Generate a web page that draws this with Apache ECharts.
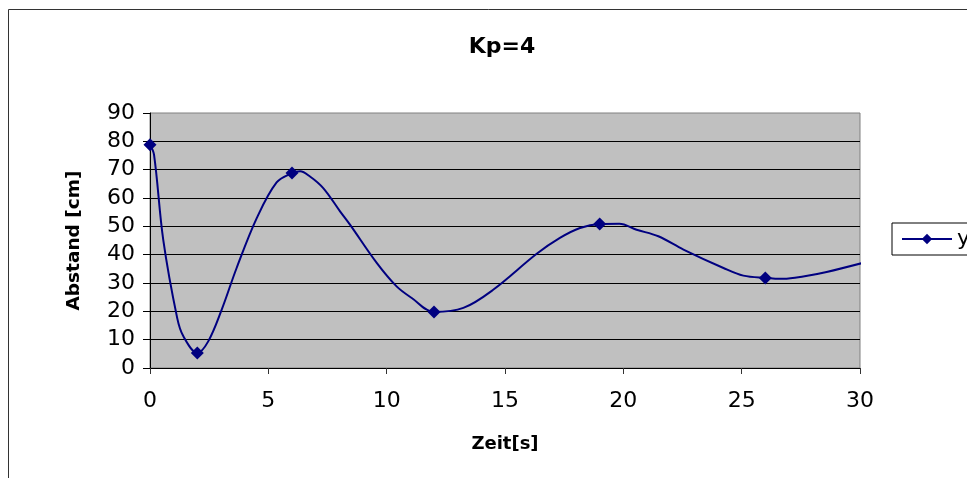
<!DOCTYPE html>
<html>
<head>
<meta charset="utf-8">
<script src="https://cdn.jsdelivr.net/npm/echarts@6/dist/echarts.min.js"></script>
<style>
html,body{margin:0;padding:0;background:#fff;}
#chart{width:967px;height:478px;}
</style>
</head>
<body>
<div id="chart"></div>
<script>
var chartTitle = 'Kp=4';
var seriesName = 'y';
var xAxisName = 'Zeit[s]';
var yAxisName = 'Abstand [cm]';
var time = [0, 0.17, 0.56, 1.15, 1.41, 2, 2.46, 3.03, 3.66, 4.51, 5.35, 6, 6.34, 6.76, 7.32, 8.03, 8.45, 9.58, 10.42, 11.06, 12, 13.24, 14.5, 16.34, 17.32, 18.17, 19, 19.83, 20.56, 21.48, 22.54, 24.23, 25.07, 26, 26.76, 27.6, 28.59, 30.35];
var distance = [78.8, 75.3, 45.2, 17.6, 11.2, 5.3, 9.4, 20.6, 35.3, 52.9, 65.5, 68.8, 69.4, 67.6, 63.5, 55.3, 50.6, 37.1, 28.8, 24.7, 19.8, 21.2, 27.6, 40.3, 45.9, 49.4, 50.8, 50.9, 48.8, 46.5, 41.8, 35.3, 32.6, 31.8, 31.5, 32.3, 33.9, 37.6];
var markedTimes = [0, 2, 6, 12, 19, 26];
var xTicks = {min: 0, max: 30, interval: 5};
var yTicks = {min: 0, max: 90, interval: 10};

var data = time.map(function (t, i) {
  var item = {value: [t, distance[i]]};
  if (markedTimes.indexOf(t) < 0) item.symbol = 'none';
  return item;
});

var chart = echarts.init(document.getElementById('chart'), null, {renderer: 'canvas'});
var font = 'DejaVu Sans';
chart.setOption({
  animation: false,
  backgroundColor: '#fff',
  title: {
    text: chartTitle,
    left: 497, top: 31, textAlign: 'center',
    textStyle: {fontFamily: font, fontSize: 22, fontWeight: 'bold', color: '#000'}
  },
  graphic: [{
    type: 'rect', silent: true, z: -1,
    shape: {x: 8.5, y: 9.5, width: 1000, height: 500},
    style: {fill: 'none', stroke: '#333', lineWidth: 1}
  }],
  legend: {
    left: 892, top: 223, orient: 'vertical',
    padding: [5, 30, 5, 9],
    backgroundColor: '#fff', borderColor: '#000', borderWidth: 1,
    itemWidth: 50, itemHeight: 13,
    textStyle: {fontFamily: font, fontSize: 22, color: '#000'},
    data: [seriesName]
  },
  grid: {
    left: 150, top: 113, width: 710, height: 255,
    show: true, backgroundColor: '#c0c0c0', borderColor: '#808080', borderWidth: 1
  },
  xAxis: {
    type: 'value', min: xTicks.min, max: xTicks.max, interval: xTicks.interval,
    name: xAxisName, nameLocation: 'middle', nameGap: 67,
    nameTextStyle: {fontFamily: font, fontSize: 18, fontWeight: 'bold', color: '#000'},
    axisLine: {show: true, lineStyle: {color: '#000', width: 1}},
    axisTick: {show: true, inside: false, length: 6, lineStyle: {color: '#333'}},
    axisLabel: {fontFamily: font, fontSize: 22, color: '#000', margin: 22},
    splitLine: {show: false}
  },
  yAxis: {
    type: 'value', min: yTicks.min, max: yTicks.max, interval: yTicks.interval,
    name: yAxisName, nameLocation: 'middle', nameGap: 66, nameRotate: 90,
    nameTextStyle: {fontFamily: font, fontSize: 18.5, fontWeight: 'bold', color: '#000'},
    axisLine: {show: true, lineStyle: {color: '#000', width: 1}},
    axisTick: {show: true, inside: false, length: 7, lineStyle: {color: '#000'}},
    axisLabel: {fontFamily: font, fontSize: 22, color: '#000', margin: 15},
    splitLine: {show: true, showMaxLine: false, lineStyle: {color: '#000', width: 1}}
  },
  series: [{
    name: seriesName, type: 'line', smooth: 0.35, clip: false,
    symbol: 'diamond', symbolSize: 13,
    lineStyle: {color: '#000080', width: 2},
    itemStyle: {color: '#000080'},
    data: data
  }]
});
</script>
</body>
</html>
